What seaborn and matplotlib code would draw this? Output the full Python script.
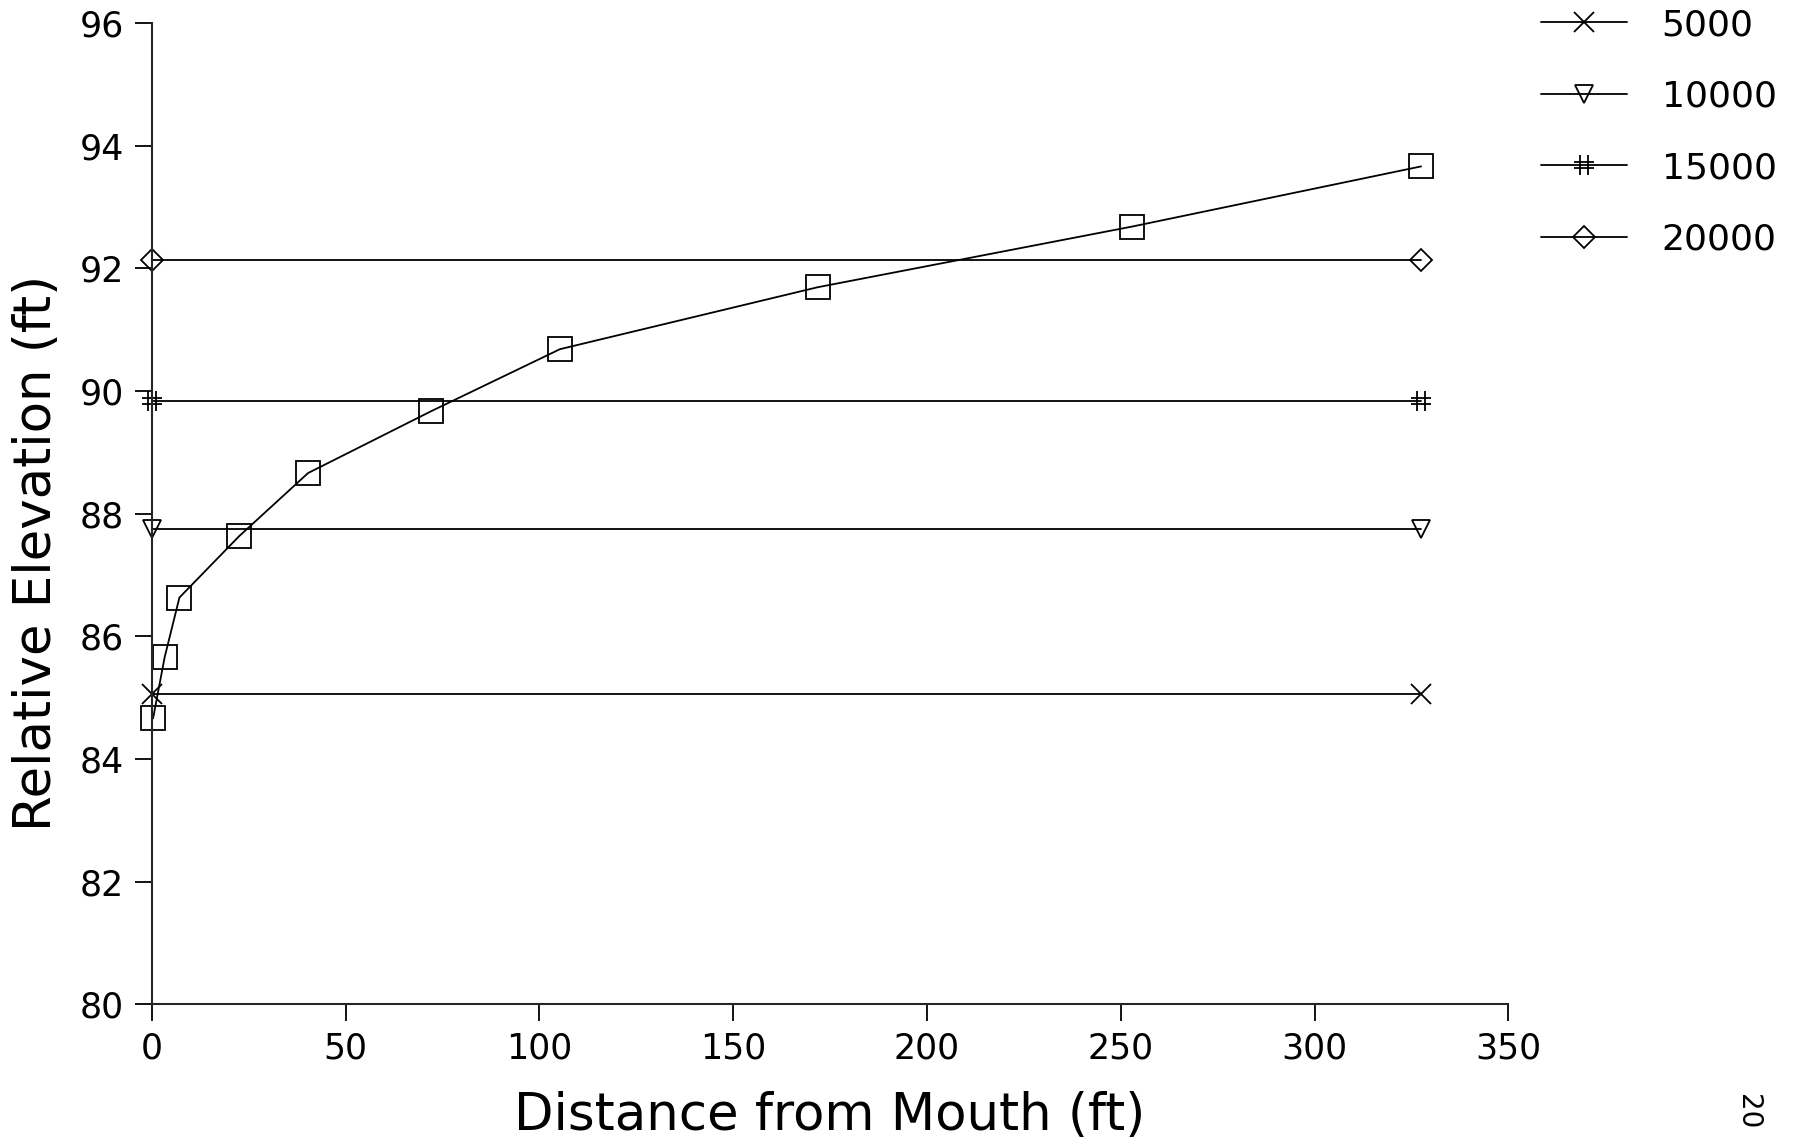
import pandas as pd
import seaborn as sns
import matplotlib.pyplot as plt
from matplotlib.lines import Line2D
from matplotlib.path import Path

# valores
dist_curve = [0.3, 3.3, 7.1, 22.5, 40.3, 72.1, 105.3, 171.8, 253.0, 327.5]
elev_curve = [84.66, 85.66, 86.63, 87.63, 88.66, 89.67, 90.68, 91.69, 92.68, 93.66]

flow_labels = ["5000", "10000", "15000", "20000"]
flow_elev = [85.06, 87.74, 89.84, 92.14]
flow_dist = [0.0, 327.5]

sns.set_style("ticks")
plt.rcParams["font.family"] = ["DejaVu Sans"]
plt.rcParams["text.color"] = "black"
plt.rcParams["axes.labelcolor"] = "black"
plt.rcParams["xtick.color"] = "black"
plt.rcParams["ytick.color"] = "black"

# marcador "#" desenhado à mão
hash_mark = Path(
    [(-0.2, -0.5), (-0.2, 0.5), (0.2, -0.5), (0.2, 0.5),
     (-0.5, -0.15), (0.5, -0.15), (-0.5, 0.15), (0.5, 0.15)],
    [Path.MOVETO, Path.LINETO] * 4,
)

markers = {"5000": "x", "10000": "v", "15000": hash_mark, "20000": "D"}
msizes = {"5000": 14, "10000": 13, "15000": 15, "20000": 11}

fig = plt.figure(figsize=(18.02, 11.45), dpi=100)
ax = fig.add_axes([0.0843, 0.123, 0.7527, 0.857])

handles = []
for lab, el in zip(flow_labels, flow_elev):
    df = pd.DataFrame({"dist": flow_dist, "elev": [el, el]})
    sns.lineplot(data=df, x="dist", y="elev", ax=ax, color="black", lw=1.3,
                 marker=markers[lab], markersize=msizes[lab], mfc="none",
                 mec="black", mew=1.3, clip_on=False)
    handles.append(Line2D([], [], color="black", lw=1.3, marker=markers[lab],
                          markersize=msizes[lab], mfc="none", mec="black", mew=1.3))

curve = pd.DataFrame({"dist": dist_curve, "elev": elev_curve})
sns.lineplot(data=curve, x="dist", y="elev", ax=ax, color="black", lw=1.3,
             marker="s", markersize=17, mfc="none", mec="black", mew=1.3,
             clip_on=False)

ax.set_xlim(0, 350)
ax.set_ylim(80, 96)
ax.set_xticks(range(0, 351, 50))
ax.set_yticks(range(80, 97, 2))
ax.tick_params(labelsize=25, length=12, width=1.3, direction="out", pad=8)
for s in ["top", "right"]:
    ax.spines[s].set_visible(False)
for s in ["left", "bottom"]:
    ax.spines[s].set_linewidth(1.5)

ax.set_xlabel("Distance from Mouth (ft)", fontsize=37, labelpad=18)
ax.set_ylabel("Relative Elevation (ft)", fontsize=37)
ax.yaxis.set_label_coords(-0.066, 0.46)

fig.legend(handles, flow_labels, loc="upper left", bbox_to_anchor=(0.855, 0.993),
           frameon=False, fontsize=26, handlelength=2.4, handletextpad=0.95,
           labelspacing=1.04, borderpad=0, borderaxespad=0)

fig.text(0.970, 0.029, "20", rotation=-90, fontsize=20, ha="center", va="center")

fig.savefig("out.png", dpi=100)
